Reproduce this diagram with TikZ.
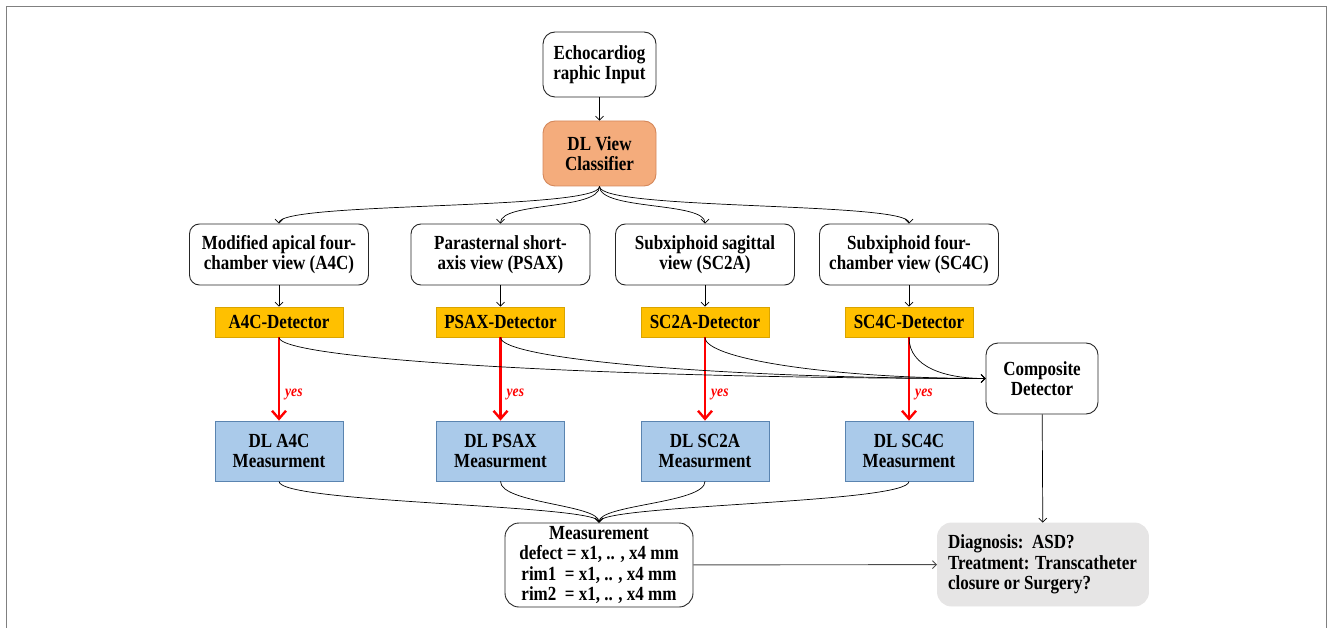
\documentclass[tikz,border=0pt]{standalone}
\usepackage{fontspec}
\setmainfont{Liberation Serif}[FakeStretch=0.85]
\usetikzlibrary{arrows.meta}
\definecolor{clsfill}{HTML}{F4AC7C}
\definecolor{clsdraw}{HTML}{D4875A}
\definecolor{detfill}{HTML}{FFC000}
\definecolor{detdraw}{HTML}{D9A400}
\definecolor{msfill}{HTML}{AACAEA}
\definecolor{msdraw}{HTML}{5A84B0}
\definecolor{dxfill}{HTML}{E6E5E5}
\tikzset{
  box/.style={draw=black!85, line width=0.9pt, rounded corners=10pt, align=center, inner sep=0pt},
  viewbox/.style={box, minimum width=179, minimum height=61},
  detbox/.style={draw=detdraw, fill=detfill, line width=0.8pt, minimum width=128, minimum height=30, inner sep=0pt},
  measbox/.style={draw=msdraw, fill=msfill, line width=0.8pt, minimum width=128, minimum height=60, align=center, inner sep=0pt},
  arr/.style={-{Straight Barb[length=4pt,width=8pt]}, line width=0.7pt},
  yesarr/.style={-{Straight Barb[length=8pt,width=14pt]}, line width=2.4pt, red},
  yeslbl/.style={right, text=red, font=\fontsize{16}{18}\selectfont\bfseries\itshape, inner sep=5pt}
}
\begin{document}
\begin{tikzpicture}[x=1pt, y=-1pt, every node/.append style={font=\fontsize{20}{20.5}\selectfont\bfseries}]
    \useasboundingbox (0,0) rectangle (1330,628);
    % frame round the figure
    \draw[gray, line width=1pt] (6,628)--(6,7)--(1326,7)--(1326,628);
    \node[box, minimum width=113, minimum height=65, rounded corners=12pt] (echo) at (599.5,64.5) {Echocardiog\\raphic Input};
    \node[box, minimum width=113, minimum height=65, rounded corners=12pt, draw=clsdraw, fill=clsfill] (cls) at (599.5,153.5) {DL View\\Classifier};
    \draw[arr] (echo) -- (cls);
    \node[box, minimum width=188, minimum height=84, rounded corners=14pt] (meas) at (599,565)
        {Measurement\\defect = x1, .. , x4 mm\\rim1\ \ = x1, .. , x4 mm\\rim2\ \ = x1, .. , x4 mm};
    \node[box, minimum width=112, minimum height=71, rounded corners=12pt] (comp) at (1042,378.5) {Composite\\Detector};
    \node[box, draw=dxfill, fill=dxfill, rounded corners=14pt, align=left, minimum width=211,
        minimum height=83] (diag) at (1043,564.5)
        {\makebox[190pt][l]{Diagnosis:\ \ ASD?}\\Treatment: Transcatheter\\closure or Surgery?};
    \foreach \x/\nm/\vtxt/\tag in {279/a4c/{Modified apical four-\\chamber view (A4C)}/A4C,
        500.5/psax/{Parasternal short-\\axis view (PSAX)}/PSAX,
        705/sc2a/{Subxiphoid sagittal\\view (SC2A)}/SC2A,
        909/sc4c/{Subxiphoid four-\\chamber view (SC4C)}/SC4C}{
        \node[viewbox] (v-\nm) at (\x,254.5) {\vtxt};
        \node[detbox] (d-\nm) at (\x,322) {\tag-Detector};
        \node[measbox] (m-\nm) at (\x,451) {DL \tag\\Measurment};
        % classifier fans out to each view
        \draw[arr] (cls.south) .. controls +(0,24) and +(0,-22) .. (v-\nm.north);
        \draw[arr] (v-\nm) -- (d-\nm);
        \draw[yesarr] (d-\nm) -- node[yeslbl, pos=0.68] {yes} (m-\nm);
        % all measurements join again
        \draw[arr] (m-\nm.south) .. controls +(0,22) and +(0,-18) .. (meas.north);
    }
    % detectors into the composite one
    \draw[arr] (d-a4c.south) .. controls +(0,22) and +(-380,0) .. (comp.west);
    \draw[arr] (d-psax.south) .. controls +(0,22) and +(-260,0) .. (comp.west);
    \draw[arr] (d-sc2a.south) .. controls +(0,22) and +(-150,0) .. (comp.west);
    \draw[arr] (d-sc4c.south) .. controls +(0,30) and +(-40,0) .. (comp.west);
    \draw[arr] (comp) -- (diag);
    \draw[arr, black!70, line width=0.9pt] (meas) -- (diag);
\end{tikzpicture}
\end{document}
